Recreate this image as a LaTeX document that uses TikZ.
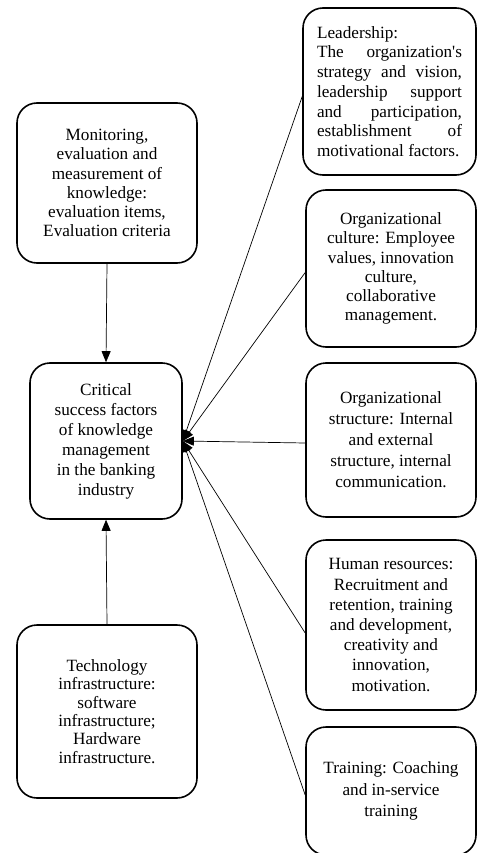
\documentclass[tikz,border=0pt]{standalone}
\usepackage{fontspec}
\setmainfont{Liberation Serif}
\usetikzlibrary{arrows.meta}
\newcommand\boxfont[1]{\fontsize{17.2}{#1}\selectfont}
\begin{document}
\begin{tikzpicture}[x=1pt,y=-1pt,
  factor/.style={draw, line width=1.6pt, rounded corners=20pt, align=center, inner sep=0pt, font=\boxfont{19.2}},
  link/.style={line width=0.7pt, -{Triangle[length=11pt,width=9pt]}}]
\useasboundingbox (0,0) rectangle (478,853);
\clip (0,0) rectangle (478,853);
% left column
\node[factor, minimum width=180pt, minimum height=160pt] (mon) at (107,183)
  {Monitoring,\\evaluation and\\measurement of\\knowledge:\\evaluation items,\\Evaluation criteria};
\node[factor, minimum width=152pt, minimum height=156pt, font=\boxfont{20}] (crit) at (106,441)
  {Critical\\success factors\\of knowledge\\management\\in the banking\\industry};
\node[factor, minimum width=180pt, minimum height=173pt, font=\boxfont{18.4}] (tech) at (107,711.5)
  {Technology\\infrastructure:\\software\\infrastructure;\\Hardware\\infrastructure.};
% right column
\node[factor, minimum width=173pt, minimum height=167pt, align=left, font=\boxfont{19.7}] (lead) at (389.5,91.5)
  {Leadership:\\
   \makebox[145pt][s]{The organization\textquotesingle s}\\
   \makebox[145pt][s]{strategy and vision,}\\
   \makebox[145pt][s]{leadership support}\\
   \makebox[145pt][s]{and participation,}\\
   \makebox[145pt][s]{establishment of}\\
   motivational factors.};
\node[factor, minimum width=170pt, minimum height=157pt] (cult) at (391,268.5)
  {Organizational\\culture: Employee\\values, innovation\\culture,\\collaborative\\management.};
\node[factor, minimum width=170pt, minimum height=154pt, font=\boxfont{21}] (str) at (391,440)
  {Organizational\\structure: Internal\\and external\\structure, internal\\communication.};
\node[factor, minimum width=170pt, minimum height=170pt, font=\boxfont{20.2}] (hr) at (391,625)
  {Human resources:\\Recruitment and\\retention, training\\and development,\\creativity and\\innovation,\\motivation.};
\node[factor, minimum width=170pt, minimum height=128pt, font=\boxfont{21.5}] (train) at (391,791)
  {Training: Coaching\\and in-service\\training};
% connectors
\draw[link] (mon.south) -- (crit.north);
\draw[link] (tech.north) -- (crit.south);
\draw[link] ([yshift=-5pt]lead.west) -- (crit.east);
\draw[link] ([yshift=-4pt]cult.west) -- (crit.east);
\draw[link] ([yshift=-3pt]str.west) -- (crit.east);
\draw[link] ([yshift=-8pt]hr.west) -- (crit.east);
\draw[link] ([yshift=-4pt]train.west) -- (crit.east);
\end{tikzpicture}
\end{document}
